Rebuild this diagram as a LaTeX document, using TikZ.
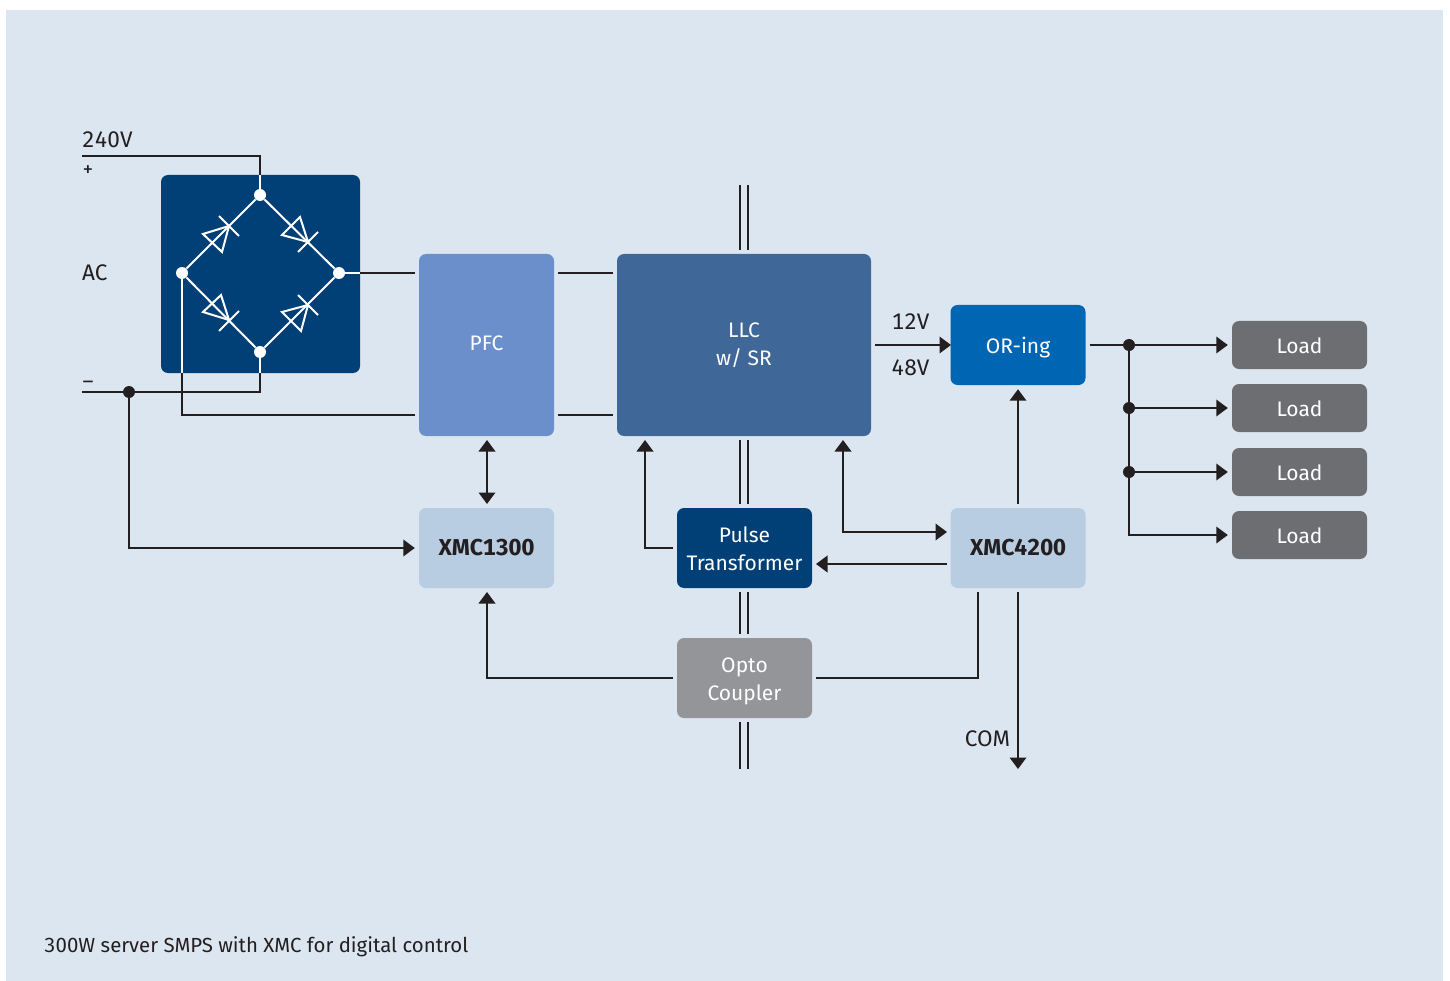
\documentclass[tikz,border=0pt]{standalone}
\usepackage{fontspec}
\setmainfont[Numbers={Lining,Monospaced}]{Fira Sans}
\usetikzlibrary{arrows.meta,calc}
\definecolor{panel}{HTML}{DCE6F1}
\definecolor{ink}{HTML}{231F20}
\definecolor{navy}{HTML}{004077}
\definecolor{pfcblue}{HTML}{6A8FCB}
\definecolor{llcblue}{HTML}{3F6899}
\definecolor{orblue}{HTML}{0066B3}
\definecolor{paleblue}{HTML}{B8CDE2}
\definecolor{optogrey}{HTML}{939598}
\definecolor{loadgrey}{HTML}{6D6E71}
\tikzset{
  x=1pt,y=-1pt,
  txt/.style={font=\fontsize{22.5}{28}\selectfont,text=ink,inner sep=0pt},
  blockbox/.style={draw=none,rounded corners=7pt,inner sep=0pt,align=center,
    font=\fontsize{21}{28}\selectfont,text=white},
  pale/.style={blockbox,fill=paleblue,text=ink,font=\fontsize{23}{28}\selectfont\bfseries,minimum width=135pt,minimum height=80pt},
  small/.style={blockbox,minimum width=135pt,minimum height=80pt},
  loadbox/.style={blockbox,fill=loadgrey,minimum width=135pt,minimum height=48pt,text height=17pt,text depth=0pt},
  wire/.style={draw=ink,line width=2pt},
  whitewire/.style={draw=white,line width=2pt},
  arr/.style={wire,-{Triangle[length=11.5pt,width=16.5pt]}},
  darr/.style={wire,{Triangle[length=11.5pt,width=16.5pt]}-{Triangle[length=11.5pt,width=16.5pt]}},
  gapb/.style={shorten <=4pt},
  gape/.style={shorten >=4pt},
  gaps/.style={shorten <=4pt,shorten >=4pt},
  dotw/.style={circle,fill=white,inner sep=0pt,minimum size=12pt},
  dotk/.style={circle,fill=ink,inner sep=0pt,minimum size=12pt},
  diode/.style={draw=white,line width=2pt,line join=miter},
}
\begin{document}
\begin{tikzpicture}
\useasboundingbox (0,0) rectangle (1450,981);
\fill[white] (0,0) rectangle (1450,981);
\fill[panel] (6,10) rectangle (1443,981);

% blocks
\node[blockbox,fill=navy,minimum width=199pt,minimum height=198pt] (bridge) at (260.5,274) {};
\node[blockbox,fill=pfcblue,minimum width=135pt,minimum height=182pt,text height=15pt,text depth=4pt] (pfc) at (486.5,345) {PFC};
\node[blockbox,fill=llcblue,minimum width=254pt,minimum height=182pt] (llc) at (744,345) {LLC\\w/ SR};
\node[small,fill=orblue,minimum height=80pt,text height=16pt,text depth=0pt] (oring) at (1018,345) {OR-ing};
\node[pale] (xmcA) at (486.5,548) {XMC1300};
\node[small,fill=navy,text height=45pt,text depth=0pt] (pulse) at (744.5,548) {Pulse\\Transformer};
\node[pale] (xmcB) at (1018,548) {XMC4200};
\node[small,fill=optogrey,text height=45pt,text depth=0pt] (opto) at (744.5,678) {Opto\\Coupler};
\node[loadbox] (loadA) at (1299.5,345) {Load};
\node[loadbox] (loadB) at (1299.5,408) {Load};
\node[loadbox] (loadC) at (1299.5,472) {Load};
\node[loadbox] (loadD) at (1299.5,535) {Load};

% bridge nodes
\node[dotw] (nt) at (260,195) {};
\node[dotw] (nl) at (182,273) {};
\node[dotw] (nr) at (339,273) {};
\node[dotw] (nb) at (260,352) {};
\draw[whitewire] (nl) -- (nt) -- (nr) -- (nb) -- (nl);

% diodes
\draw[diode] (229,226) -- (203,234) -- (222,252) -- cycle (219,216) -- (239,236);
\draw[diode] (308,242) -- (282,235) -- (300,217) -- cycle (298,252) -- (318,232);
\draw[diode] (229,320) -- (203,312) -- (221,295) -- cycle (219,331) -- (239,311);
\draw[diode] (308,305) -- (282,312) -- (301,331) -- cycle (298,295) -- (318,315);

% free ends and junctions
\coordinate (plusEnd) at (82,156);
\coordinate (minusEnd) at (82,392);
\coordinate (plusCorner) at (260,156);
\coordinate (minusCorner) at (260,392);
\coordinate (acCorner) at (182,415);
\coordinate (bridgeBL) at (182,373);
\coordinate (pfcTL) at (419,273);
\coordinate (pfcTR) at (554,273);
\coordinate (pfcBL) at (419,415);
\coordinate (pfcBR) at (554,415);
\coordinate (llcTL) at (617,273);
\coordinate (llcBL) at (617,415);
\coordinate (pfcS) at (487,436);
\coordinate (xmcAN) at (487,508);
\coordinate (xmcAS) at (487,588);
\coordinate (llcPulse) at (645,436);
\coordinate (llcXmc) at (843,436);
\coordinate (xmcBa) at (951,532);
\coordinate (xmcBb) at (951,564);
\coordinate (pulseB) at (812,564);
\coordinate (xmcBc) at (978,588);
\coordinate (comEnd) at (1018,769);
\coordinate (llcOut) at (871,345);
\coordinate (oringIn) at (951,345);
\node[dotk] (jm) at (129,392) {};
\node[dotk] (ja) at (1129,345) {};
\node[dotk] (jb) at (1129,408) {};
\node[dotk] (jc) at (1129,472) {};

% bridge supply
\draw[whitewire] (nt) -- (bridge.north -| nt);
\draw[whitewire] (nb) -- (bridge.south -| nb);
\draw[whitewire] (nl) -- (bridgeBL);
\draw[whitewire] (nr) -- (bridge.east |- nr);
\draw[wire] (plusEnd) -- (plusCorner) -- (bridge.north -| nt);
\draw[wire] (minusEnd) -- (minusCorner) -- (bridge.south -| nb);
\draw[wire,gape] (bridgeBL) -- (acCorner) -- (pfcBL);
\draw[wire,gape] (bridge.east |- nr) -- (pfcTL);
\draw[wire,gaps] (pfcTR) -- (llcTL);
\draw[wire,gaps] (pfcBR) -- (llcBL);
\draw[arr,gape] (jm) |- (xmcA.west);
\draw[darr,gaps] (pfcS) -- (xmcAN);

% isolation barriers
\foreach \o/\t in {-4/a,4/b}{
  \coordinate (top\t) at ($(744,185)+(\o,0)$);
  \coordinate (bot\t) at ($(744,769)+(\o,0)$);
  \draw[wire,shorten >=4pt] (top\t) -- ($(llc.north)+(\o,0)$);
  \draw[wire,gaps] ($(llc.south)+(\o,0)$) -- ($(llc.south |- pulse.north)+(\o,0)$);
  \draw[wire,gaps] ($(llc.south |- pulse.south)+(\o,0)$) -- ($(llc.south |- opto.north)+(\o,0)$);
  \draw[wire,gapb] ($(llc.south |- opto.south)+(\o,0)$) -- (bot\t);
}

% control
\draw[arr,gaps] (pulse.west) -| (llcPulse);
\draw[darr,gaps] (llcXmc) |- (xmcBa);
\draw[arr,gaps] (xmcBb) -- (pulseB);
\draw[arr,gaps] (opto.west) -| (xmcAS);
\draw[wire,gaps] (opto.east) -| (xmcBc);
\draw[arr,gapb] (xmcB.south) -- (comEnd);
\draw[arr,gaps] (xmcB.north) -- (oring.south);
\draw[arr,gapb] (llcOut) -- (oringIn);

% loads
\draw[arr,gaps] (oring.east) -- (loadA.west);
\draw[wire] (ja) -- (jb) -- (jc);
\draw[arr,gape] (jb) -- (loadB.west);
\draw[arr,gape] (jc) -- (loadC.west);
\draw[arr,gape] (jc) |- (loadD.west);

% labels
\node[txt,anchor=base west] (lV) at (82,148) {240V};
\node[txt,anchor=center,font=\fontsize{21}{24}\selectfont] (lP) at (88,171) {+};
\node[txt,anchor=west] (lAC) at (82,273) {AC};
\node[txt,anchor=center,font=\fontsize{21}{24}\selectfont] (lM) at (88,385) {–};
\node[txt] (l12) at (910.5,322) {12V};
\node[txt] (l48) at (910.5,368) {48V};
\node[txt] (lC) at (987.5,739) {COM};
\node[txt,anchor=base west,font=\fontsize{20.4}{24}\selectfont] (cap) at (44,952) {300W server SMPS with XMC for digital control};
\end{tikzpicture}
\end{document}
